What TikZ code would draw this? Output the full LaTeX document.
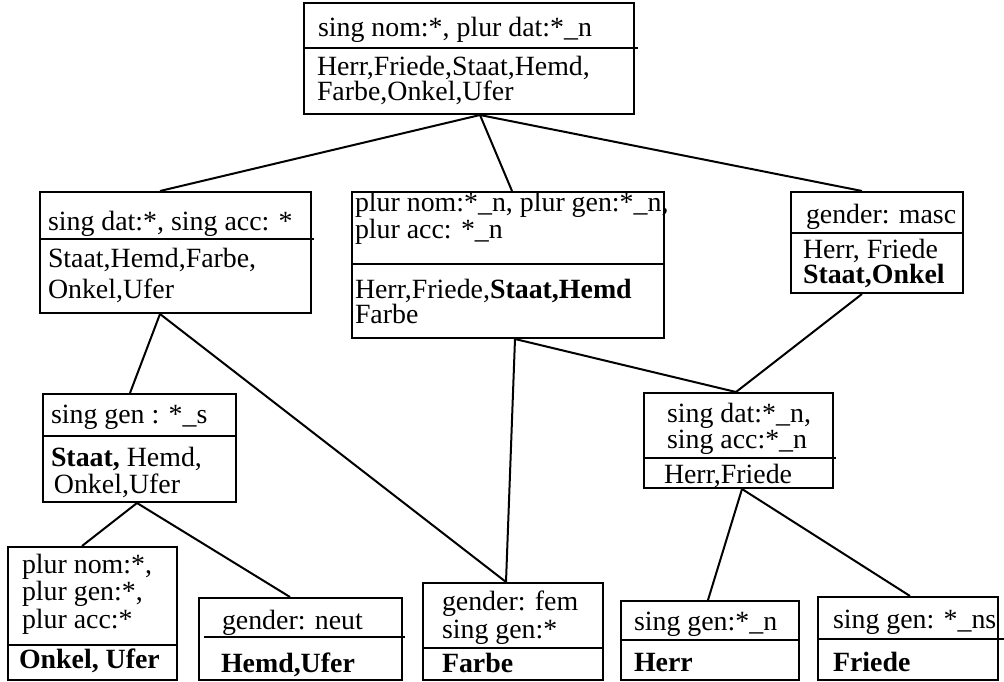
\documentclass[tikz,border=0pt]{standalone}
\usepackage{fontspec}
\setmainfont{Liberation Serif}
\usetikzlibrary{fit}

\begin{document}
\begin{tikzpicture}[x=0.75pt, y=-0.75pt, line width=1.5pt,
      box/.style = {draw, rectangle, inner sep=0pt},
      txt/.style = {anchor=base west, inner sep=0pt, align=left,
        font=\fontsize{20.9}{#1}\selectfont},
      txt/.default = 18.75]
  \useasboundingbox (0,0) rectangle (1004,682);

  % boxes
  \node[box, fit={(304,3) (634,114)}] (root) {};
  \node[box, fit={(40,192) (311,313)}] (datacc) {};
  \node[box, fit={(352,192) (664,338)}] (plur) {};
  \node[box, fit={(791,192) (963,293)}] (masc) {};
  \node[box, fit={(644,393) (833,488)}] (datn) {};
  \node[box, fit={(43,394) (236,502)}] (gens) {};
  \node[box, fit={(8,547) (177,680)}] (plurstar) {};
  \node[box, fit={(199,598) (402,680)}] (neut) {};
  \node[box, fit={(423,583) (603,680)}] (fem) {};
  \node[box, fit={(621,601) (799,680)}] (genn) {};
  \node[box, fit={(818,597) (998,680)}] (genns) {};

  % dividers
  \draw (root.west |- 0,48) -- ([xshift=2pt]root.east |- 0,48);
  \draw (datacc.west |- 0,239) -- ([xshift=1.5pt]datacc.east |- 0,239);
  \draw (plur.west |- 0,264) -- (plur.east |- 0,264);
  \draw (masc.west |- 0,233) -- (masc.east |- 0,233);
  \draw (datn.west |- 0,458) -- ([xshift=1.5pt]datn.east |- 0,458);
  \draw (gens.west |- 0,436) -- (gens.east |- 0,436);
  \draw (plurstar.west |- 0,645) -- (plurstar.east |- 0,645);
  \draw ([xshift=4.5pt]neut.west |- 0,637) -- ([xshift=1.5pt]neut.east |- 0,637);
  \draw (fem.west |- 0,648) -- (fem.east |- 0,648);
  \draw (genn.west |- 0,640) -- (genn.east |- 0,640);
  \draw (genns.west |- 0,639) -- ([xshift=3.5pt]genns.east |- 0,639);

  % texts (multi-line nodes sit on their last baseline)
  \node[txt] (root-t) at (317,36) {sing nom:*, plur dat:*\_n};
  \node[txt] (root-b) at (316,100) {Herr,Friede,Staat,Hemd,\\Farbe,Onkel,Ufer};
  \node[txt] (datacc-t) at (47,230) {sing dat:*, sing acc: *};
  \node[txt=23.25] (datacc-b) at (47,298) {Staat,Hemd,Farbe,\\Onkel,Ufer};
  \node[txt] (plur-t) at (354,238) {plur nom:*\_n, plur gen:*\_n,\\plur acc: *\_n};
  \node[txt] (plur-b) at (354,323) {Herr,Friede,\textbf{Staat,Hemd}\\Farbe};
  \node[txt] (masc-t) at (805,223) {gender: masc};
  \node[txt=17.25] (masc-b) at (802,283) {Herr, Friede\\\textbf{Staat,Onkel}};
  \node[txt=19.5] (datn-t) at (666,448) {sing dat:*\_n,\\sing acc:*\_n};
  \node[txt] (datn-b) at (663,483) {Herr,Friede};
  \node[txt] (gens-t) at (50,423) {sing gen : *\_s};
  \node[txt=20.25] (gens-b) at (50,493) {\textbf{Staat,} Hemd,\\\hspace{2.2pt}Onkel,Ufer};
  \node[txt=20.6] (plurstar-t) at (21,628) {plur nom:*,\\plur gen:*,\\plur acc:*};
  \node[txt] (plurstar-b) at (18,668) {\textbf{Onkel, Ufer}};
  \node[txt] (neut-t) at (221,629) {gender: neut};
  \node[txt] (neut-b) at (220,672) {\textbf{Hemd,Ufer}};
  \node[txt=21] (fem-t) at (441,638) {gender: fem\\sing gen:*};
  \node[txt] (fem-b) at (441,672) {\textbf{Farbe}};
  \node[txt] (genn-t) at (633,630) {sing gen:*\_n};
  \node[txt] (genn-b) at (633,671) {\textbf{Herr}};
  \node[txt] (genns-t) at (832,628) {sing gen: *\_ns};
  \node[txt] (genns-b) at (832,671) {\textbf{Friede}};

  % connectors
  \draw (root.south -| 480,0) -- (datacc.north -| 160,0);
  \draw (root.south -| 480,0) -- (plur.north -| 512,0);
  \draw (root.south -| 480,0) -- (masc.north -| 862,0);
  \draw (datacc.south -| 160,0) -- (gens.north -| 130,0);
  \draw (datacc.south -| 160,0) -- (fem.north -| 506,0);
  \draw (plur.south -| 515,0) -- (fem.north -| 506,0);
  \draw (plur.south -| 515,0) -- (datn.north -| 736,0);
  \draw (masc.south -| 862,0) -- (datn.north -| 736,0);
  \draw (gens.south -| 137,0) -- (plurstar.north -| 82,0);
  \draw (gens.south -| 137,0) -- (neut.north -| 290,0);
  \draw (datn.south -| 742,0) -- (genn.north -| 708,0);
  \draw (datn.south -| 742,0) -- (genns.north -| 910,0);
\end{tikzpicture}
\end{document}
